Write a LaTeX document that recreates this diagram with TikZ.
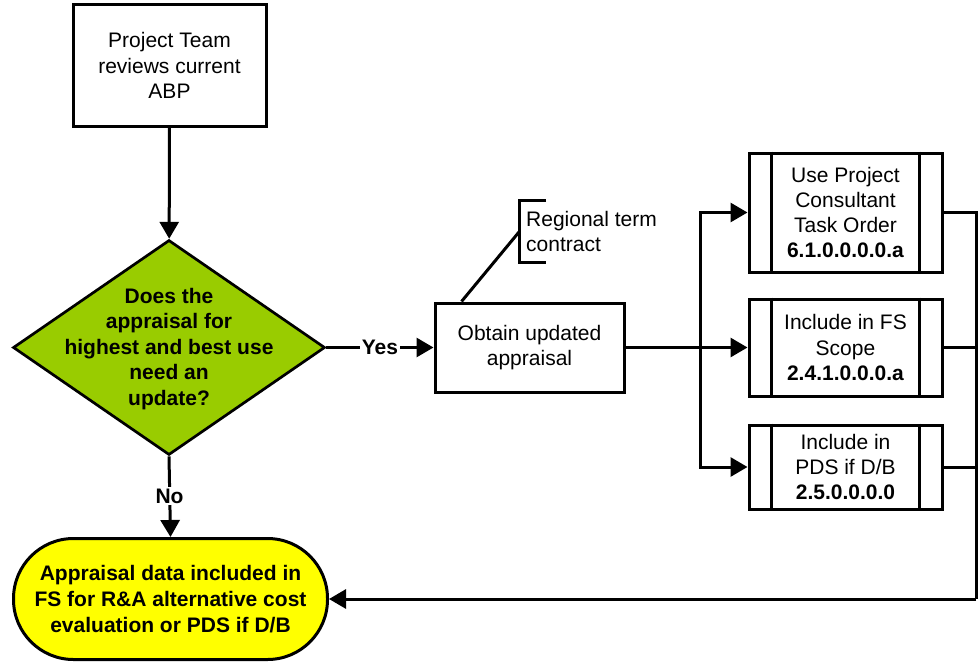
\documentclass[tikz,border=0pt]{standalone}
\usepackage{fontspec}
\setmainfont{Liberation Sans}
\usetikzlibrary{arrows.meta,shapes.geometric,calc}
\definecolor{dgreen}{HTML}{99CC00}
\definecolor{tyellow}{HTML}{FFFF00}
\begin{document}
\begin{tikzpicture}[x=1pt,y=-1pt,
  every node/.style={font=\fontsize{21}{25.3}\selectfont, align=center, inner sep=0pt},
  ln/.style={line width=3pt, draw=black},
  arr/.style={ln, -{Triangle[length=17pt,width=19pt]}},
  boxst/.style={rectangle, draw=black, line width=3pt, fill=white},
  proc/.style={boxst, minimum width=193pt},
  decst/.style={diamond, draw=black, line width=2.7pt, fill=dgreen, minimum width=312pt, minimum height=215pt, inner sep=0pt},
  termst/.style={rectangle, rounded corners=60pt, draw=black, line width=3pt, fill=tyellow, minimum width=314pt, minimum height=121pt, font=\fontsize{21}{26}\selectfont\bfseries},
  lbl/.style={font=\fontsize{21}{25}\selectfont\bfseries, fill=white, inner sep=1.5pt}
]
\useasboundingbox (0,0) rectangle (979,661);

% nodes
\node[boxst, minimum width=193pt, minimum height=121pt] (top) at (169.5,65.5) {Project Team\\reviews current\\ABP};
\node[decst] (dec) at (169,347.5) {};
\node[font=\fontsize{21}{25.5}\selectfont\bfseries] (dect) at ([yshift=-1.5pt]dec.center) {Does the\\appraisal for\\highest and best use\\need an\\update?};
\node[boxst, minimum width=189pt, minimum height=89pt] (obt) at (529.5,347.5) {Obtain updated\\appraisal};
\node[proc, minimum height=119pt] (p1) at (845.5,212.5) {Use Project\\Consultant\\Task Order\\\textbf{6.1.0.0.0.0.a}};
\node[proc, minimum height=97pt] (p2) at (845.5,347.5) {Include in FS\\Scope\\\textbf{2.4.1.0.0.0.a}};
\node[proc, minimum height=84pt] (p3) at (845.5,467) {Include in\\PDS if D/B\\\textbf{2.5.0.0.0.0}};
\node[termst] (term) at (170.5,599) {Appraisal data included in\\FS for R\&A alternative cost\\evaluation or PDS if D/B};

% inner bars of predefined process boxes
\foreach \p in {p1,p2,p3}{
  \draw[ln] ([xshift=24pt]\p.north west) -- ([xshift=24pt]\p.south west);
  \draw[ln] ([xshift=-24pt]\p.north east) -- ([xshift=-24pt]\p.south east);
}

% annotation
\coordinate (brt) at (546,200);
\coordinate (brb) at (546,262);
\coordinate (brm) at (519,232);
\draw[ln] (brt) -- (519,200) -- (519,262) -- (brb);
\node[anchor=west, align=left, font=\fontsize{21}{25}\selectfont] (ann) at (526,231) {Regional term\\contract};
\draw[ln] (obt.north west) ++(28,0) coordinate (obtc) -- (brm);

% connectors
\draw[arr] (top) -- (dec);
\draw[arr] (dec.east) -- (obt.west);
\draw[arr] (dec.south) -- (term.north);
\node[lbl] (yes) at ($(dec.east)!0.5!(obt.west)$) {Yes};
\node[lbl] (no) at (169.5,496) {No};

\coordinate (sp) at (700,347.5);
\draw[ln] (obt.east) -- (sp);
\draw[arr] (sp) |- (p1.west);
\draw[arr] (sp) -- (p2.west);
\draw[arr] (sp) |- (p3.west);

\coordinate (rb) at (976,599);
\draw[ln] (p1.east) -| (rb);
\draw[ln] (p2.east) -- (p2.east -| rb);
\draw[ln] (p3.east) -- (p3.east -| rb);
\draw[arr] (rb) -- (term.east);
\end{tikzpicture}
\end{document}
